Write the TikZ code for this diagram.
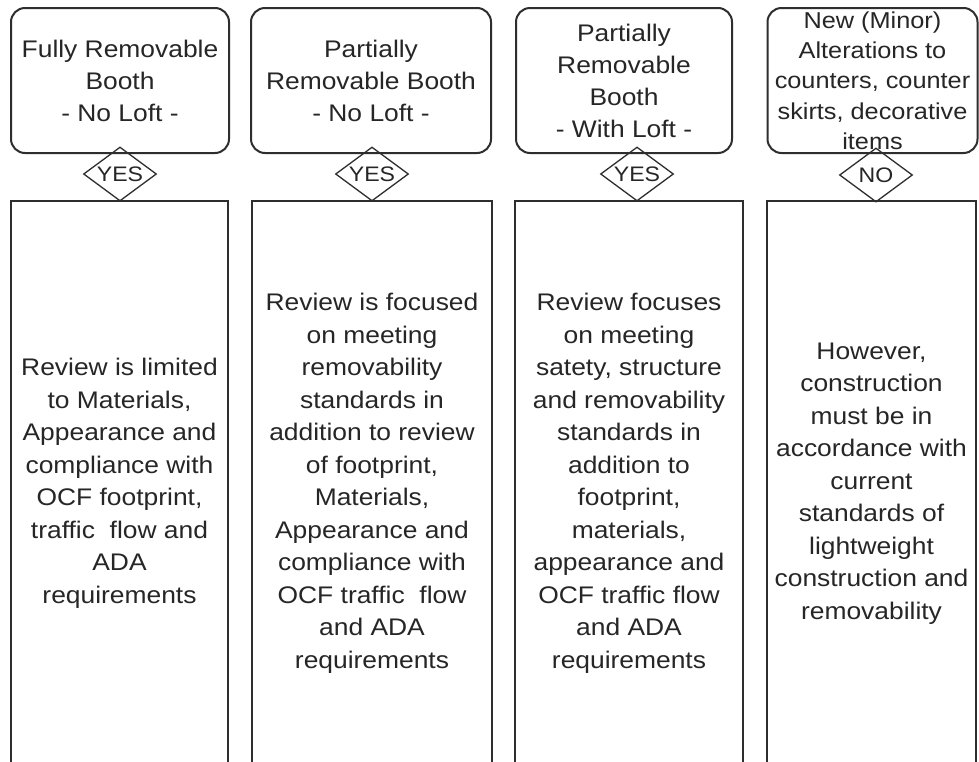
\documentclass[tikz,border=0pt]{standalone}
\usepackage{fontspec}
\setmainfont[FakeStretch=1.1]{Liberation Sans}
\usetikzlibrary{shapes.geometric}
\definecolor{linecol}{HTML}{2E2E2E}
\definecolor{txtcol}{HTML}{262626}
\tikzset{
  topbox/.style={draw=linecol, line width=2pt, rounded corners=14pt, align=center,
    inner sep=0pt, text=txtcol, font=\fontsize{24}{32}\selectfont},
  botbox/.style={draw=linecol, line width=1.8pt, align=center, inner sep=0pt,
    text=txtcol, font=\fontsize{24}{32.5}\selectfont},
  dec/.style={diamond, draw=linecol, line width=1.3pt, shape aspect=1.35, inner sep=0pt,
    minimum width=73pt, minimum height=54pt, text=txtcol, font=\fontsize{21}{21}\selectfont}
}
\begin{document}
\begin{tikzpicture}[x=1pt,y=-1pt]
\useasboundingbox (0,0) rectangle (979,761);
\clip (0,0) rectangle (979,761);
\fill[white] (0,0) rectangle (979,761);

% decision diamonds
\node[dec] (d1) at (120,174) {YES};
\node[dec] (d2) at (372,174) {YES};
\node[dec] (d3) at (637,174) {YES};
\node[dec] (d4) at (876,175) {NO};

% top boxes
\node[topbox, minimum width=218pt, minimum height=145pt] (t1) at (120,80.5)
  {Fully Removable\\Booth\\- No Loft -};
\node[topbox, minimum width=240pt, minimum height=145pt] (t2) at (371,80.5)
  {Partially\\Removable Booth\\- No Loft -};
\node[topbox, minimum width=216pt, minimum height=145pt] (t3) at (624,80.5)
  {Partially\\Removable\\Booth\\- With Loft -};
\node[topbox, minimum width=210pt, minimum height=145pt, font=\fontsize{23}{30.3}\selectfont] (t4) at (872.5,80.5)
  {New (Minor)\\Alterations to\\counters, counter\\skirts, decorative\\items};

% bottom boxes
\node[botbox, minimum width=217pt, minimum height=565pt] (b1) at (119.5,483.5)
  {Review is limited\\to Materials,\\Appearance and\\compliance with\\OCF footprint,\\traffic\ \ flow and\\ADA\\requirements};
\node[botbox, minimum width=240pt, minimum height=565pt] (b2) at (372,483.5)
  {Review is focused\\on meeting\\removability\\standards in\\addition to review\\of footprint,\\Materials,\\Appearance and\\compliance with\\OCF traffic\ \ flow\\and ADA\\requirements};
\node[botbox, minimum width=228pt, minimum height=565pt] (b3) at (629,483.5)
  {Review focuses\\on meeting\\satety, structure\\and removability\\standards in\\addition to\\footprint,\\materials,\\appearance and\\OCF traffic flow\\and ADA\\requirements};
\node[botbox, minimum width=209pt, minimum height=565pt] (b4) at (871.5,483.5)
  {However,\\construction\\must be in\\accordance with\\current\\standards of\\lightweight\\construction and\\removability};
\end{tikzpicture}
\end{document}
